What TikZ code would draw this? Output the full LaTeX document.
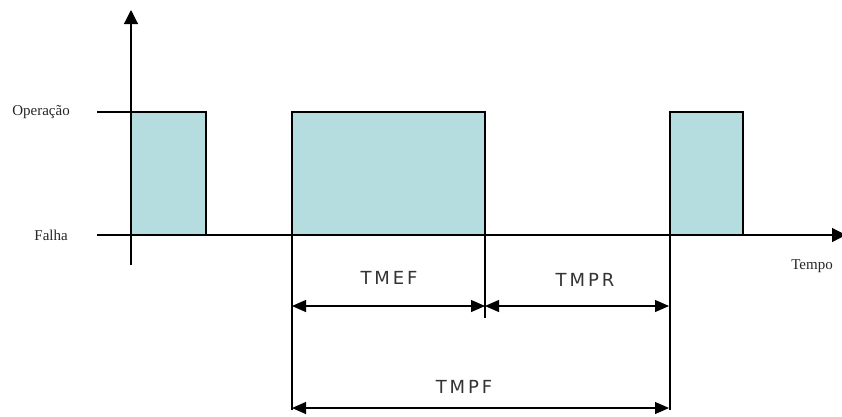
\documentclass[tikz,border=0pt]{standalone}
\usepackage{fontspec}
\setmainfont{Liberation Serif}
\newfontfamily\dimfont[LetterSpace=16]{DejaVu Sans}
\usetikzlibrary{arrows.meta}
\definecolor{pulse}{RGB}{181,221,224}
\tikzset{
  ln/.style={line width=1.2pt, black},
  pulsebox/.style={ln, fill=pulse},
  axistip/.style={-{Triangle[length=14pt,width=14pt]}},
  dimline/.style={ln, {Triangle[length=14pt,width=12pt]}-{Triangle[length=14pt,width=12pt]}},
  lvl/.style={font=\fontsize{15}{17}\selectfont, text=black!85, inner sep=0pt},
  dimlbl/.style={font=\dimfont\fontsize{18}{20}\selectfont, text=black!80, inner sep=0pt}
}
\begin{document}
\begin{tikzpicture}[x=1pt,y=-1pt]
\useasboundingbox (0,0) rectangle (842,416);

% reference points
\coordinate (ytop) at (131,10);
\coordinate (ybot) at (131,265);
\coordinate (xstart) at (97,235);
\coordinate (xend) at (846,235);
\coordinate (opstart) at (97,112);

% operating intervals
\draw[pulsebox] (131,112) rectangle (206,235);
\draw[pulsebox] (292,112) rectangle (485,235);
\draw[pulsebox] (670,112) rectangle (743,235);
\draw[ln] (opstart) -- (131,112);

% axes
\draw[ln, axistip] (ybot) -- (ytop);
\draw[ln, axistip] (xstart) -- (xend);

% extension lines
\coordinate (e1) at (292,410);
\coordinate (e2) at (485,318);
\coordinate (e3) at (670,410);
\draw[ln] (292,235) -- (e1);
\draw[ln] (485,235) -- (e2);
\draw[ln] (670,235) -- (e3);

% dimension arrows
\coordinate (a1) at (292,306);
\coordinate (a2) at (485,306);
\coordinate (a3) at (669,306);
\coordinate (b1) at (292,408);
\coordinate (b2) at (669,408);
\draw[dimline] (a1) -- (a2);
\draw[dimline] (a2) -- (a3);
\draw[dimline] (b1) -- (b2);

% labels
\node[lvl, anchor=east] (op) at (70,112) {Operação};
\node[lvl, anchor=east] (fa) at (68,235) {Falha};
\node[lvl] (tempo) at (812,266) {Tempo};
\node[dimlbl] (tmef) at (389,278) {TMEF};
\node[dimlbl] (tmpr) at (585,280) {TMPR};
\node[dimlbl] (tmpf) at (464,387) {TMPF};
\end{tikzpicture}
\end{document}
